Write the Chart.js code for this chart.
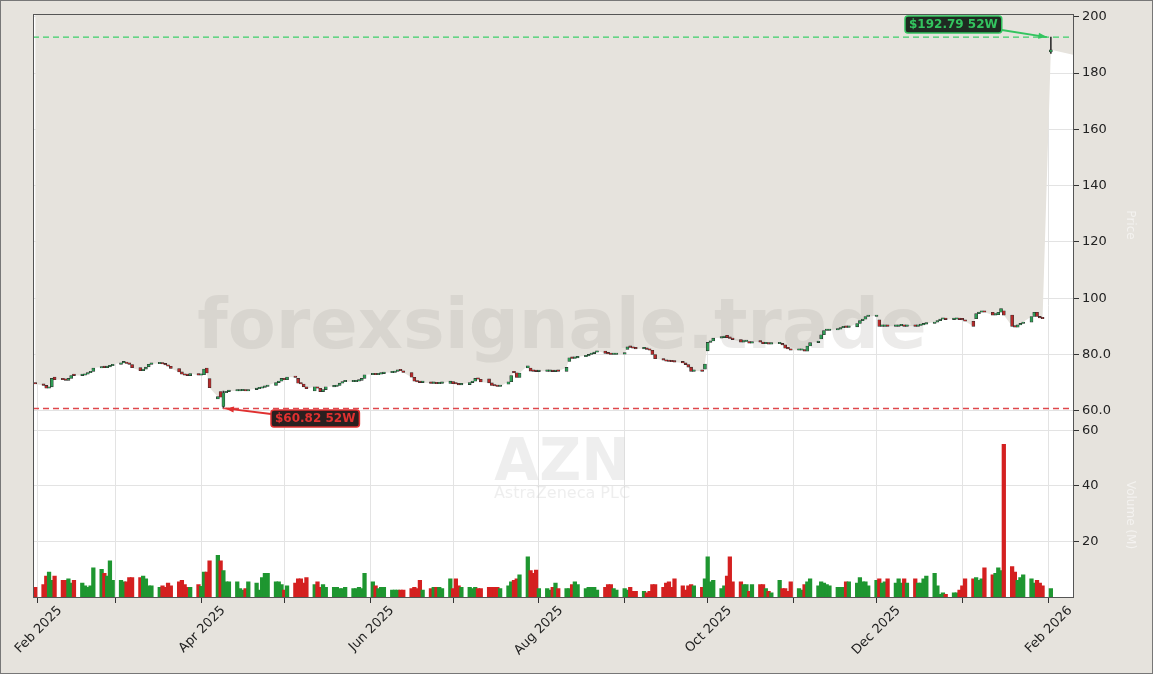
<!DOCTYPE html>
<html>
<head>
<meta charset="utf-8">
<script src="https://cdn.jsdelivr.net/npm/chart.js@4.4.1/dist/chart.umd.min.js"></script>
<style>
  html, body { margin: 0; padding: 0; background: #e6e3dd; }
  #wrap { width: 1153px; height: 674px; position: relative; }
</style>
</head>
<body>
<div id="wrap"><canvas id="azn-chart" width="1153" height="674"></canvas></div>
<script>
// Trading days run from 31 Jan 2025 to 2 Feb 2026 (weekdays)
const firstDay = Date.UTC(2025, 0, 31);
const lastDay = Date.UTC(2026, 1, 2);

// Daily opens / closes (USD), one row per week
const opens = [
  70,
  69.5, 69, 68, 68.5, 72,
  71.2, 71, 70.8, 71.5, 72.6,
  72.5, 72.6, 73, 73.5, 74,
  75.2, 75.5, 75.3, 75.6, 76,
  76.5, 77, 77.2, 76.8, 76.4,
  75.3, 74.2, 74.8, 75.6, 76.5,
  76.7, 76.8, 76.6, 76.3, 75.8,
  75, 73.8, 73, 72.6, 72.5,
  73.2, 72.6, 72.8, 75.2, 71.4,
  64.2, 66.8, 61.5, 66.4, 66.8,
  67, 67, 67.1, 67.2, 67,
  67.5, 67.8, 68, 68.3, 68.6,
  69, 70, 70.5, 71.5, 71,
  72, 71.5, 69.8, 69.5, 68.5,
  67, 68.5, 68, 66.8, 67.5,
  68.5, 68.6, 69, 69.8, 70.3,
  70.3, 70.3, 70.5, 70.8, 71.5,
  72.8, 73, 72.8, 73, 73.2,
  73.5, 73.6, 74, 74.3, 74.2,
  73.6, 71.9, 70.5, 70.2, 70,
  70, 69.7, 69.8, 69.6, 69.7,
  69.7, 70.4, 69.6, 69.5, 69.2,
  69.3, 70, 70.5, 71.5, 71.2,
  71.3, 69.9, 69, 68.8, 68.6,
  69.4, 70.3, 73.8, 73.5, 71.8,
  75.2, 75.2, 74.1, 74, 73.9,
  74, 74, 74.1, 73.9, 74.2,
  74, 77.5, 78.8, 78.6, 78.8,
  79.2, 79.5, 80, 80.3, 80.8,
  81.2, 80.4, 80.2, 80, 80,
  80.1, 81.8, 82.7, 82.5, 82.2,
  82, 82, 81.8, 81.5, 80,
  78.5, 78, 77.6, 77.5, 77.4,
  77.3, 77, 76.4, 75.5, 74,
  74.1, 74.8, 81.3, 84.3, 84.8,
  85.8, 86, 86.8, 86, 85.7,
  85.3, 84.4, 84.6, 84.6, 84,
  84.5, 84.4, 83.8, 83.8, 83.7,
  83.8, 83.8, 83.4, 82.2, 82,
  81.5, 81.5, 81.5, 81.2, 83,
  84.2, 85.5, 87, 88.5, 88.5,
  88.7, 89, 89.5, 89.7, 89.6,
  89.8, 91, 92, 92.5, 93.5,
  93.5, 92.3, 90, 90, 90.1,
  90, 90, 90.2, 90.2, 90,
  90.1, 90, 90.3, 90.5, 90.8,
  91, 91.5, 92, 92.5, 92.5,
  92.4, 92.5, 92.5, 92.4, 92.3,
  91.8, 92.7, 94.5, 95, 95.1,
  95, 94, 94.1, 95, 95.5,
  94, 90, 89.7, 90.5, 91,
  91.5, 93.5, 95, 93.5, 93,
  187.5
];

const closes = [
  69.5,
  69, 68, 68.5, 71.5, 71,
  71, 70.8, 71.5, 72.5, 72.5,
  72.5, 73, 73.5, 74, 75.2,
  75.5, 75.3, 75.6, 76, 76.5,
  77, 77.2, 76.8, 76.5, 75.3,
  74.2, 74.8, 75.5, 76.5, 76.7,
  76.8, 76.6, 76.3, 75.8, 75,
  73.8, 73, 72.6, 72.5, 73.2,
  72.6, 72.8, 74.8, 73.4, 68.2,
  65, 64.8, 66.4, 66.8, 67,
  67, 67.1, 67.2, 67, 67.5,
  67.8, 68, 68.3, 68.6, 69,
  70, 70.5, 71.5, 71, 72,
  71.8, 69.8, 69.5, 68.5, 67.8,
  68.5, 68, 66.8, 67.5, 68.5,
  68.6, 69, 69.8, 70.3, 70.3,
  70.3, 70.5, 70.8, 71.5, 72.8,
  73, 72.8, 73, 73.2, 73.5,
  73.6, 74, 74.3, 74.2, 73.6,
  71.9, 70.5, 70.2, 70, 70,
  69.7, 69.8, 69.6, 69.7, 69.7,
  70.5, 69.6, 69.5, 69.2, 69.3,
  70, 70.5, 71.5, 71.2, 70.2,
  69.9, 69, 68.8, 68.6, 68.7,
  70.3, 72.5, 73.5, 71.8, 73.4,
  76, 74.1, 74, 73.9, 74,
  74, 74.1, 73.9, 74.2, 74,
  75.4, 78.8, 78.6, 78.8, 79.2,
  79.5, 80, 80.3, 80.8, 81.2,
  80.4, 80.2, 80, 80, 80.1,
  80.2, 82.7, 82.5, 82.2, 82,
  82, 81.8, 81.5, 80, 78.5,
  78, 77.6, 77.5, 77.4, 77.3,
  77, 76.4, 75.5, 74, 74.1,
  74, 76.6, 84.3, 84.8, 85.8,
  86, 86.2, 86, 85.7, 85.3,
  84.4, 84.6, 84.6, 84, 84.5,
  84.4, 83.8, 83.8, 83.7, 83.8,
  83.8, 83.4, 82.2, 82, 81.5,
  81.5, 81.5, 81.2, 83, 84.2,
  84.5, 87, 88.5, 88.5, 88.7,
  89, 89.5, 89.7, 89.6, 89.8,
  91, 92, 92.5, 93.5, 93.5,
  93.8, 90, 90, 90.1, 90,
  90, 90.2, 90.2, 90, 90.1,
  90, 90.3, 90.5, 90.8, 91,
  91.5, 92, 92.5, 92.5, 92.4,
  92.5, 92.5, 92.4, 92.3, 91.8,
  90, 94.5, 95, 95.1, 95,
  94, 94.1, 95, 96.3, 94,
  90, 89.7, 90.5, 91, 91.5,
  93.5, 95, 93.5, 93, 92.7,
  188.3
];

// Daily volume (millions)
const volumes = [
  3.5,
  4.5, 7.5, 9, 6, 7.5,
  6, 6, 6.5, 5, 6,
  5, 4, 3.5, 4, 10.5,
  10, 8.5, 7.5, 13, 6,
  6, 5.5, 5.5, 7, 7,
  7, 7.5, 6.5, 4, 4,
  3.5, 4, 3.5, 5, 4,
  5.5, 6, 4.5, 3.5, 3.5,
  4.5, 3.8, 9, 9, 13,
  15, 13, 9.5, 5.5, 5.5,
  5.5, 3, 2.5, 3, 5.5,
  5, 2.5, 7, 8.5, 8.5,
  5.5, 5.5, 4.5, 2.5, 4,
  5, 6.5, 6.5, 5, 7,
  4.5, 5.5, 3.5, 4.5, 3.5,
  3.5, 3.5, 3, 3, 3.5,
  3, 3, 3.5, 3, 8.5,
  5.5, 4, 3, 3.5, 3.5,
  2.5, 2.5, 2.5, 2.5, 2.5,
  3, 3.5, 3, 6, 2.5,
  3, 3.5, 3.5, 3.5, 3,
  6.5, 3, 6.5, 4, 3.5,
  3.5, 3, 3.5, 3, 3,
  3.5, 3.5, 3.5, 3.5, 3,
  4, 5.5, 6, 6.5, 8,
  14.5, 9.5, 8.5, 9.7, 3,
  3, 2.5, 3.5, 5, 3,
  3, 3, 4.5, 5.5, 4.5,
  3, 3.5, 3.5, 3.5, 2.5,
  3.5, 4.5, 4.5, 3, 2.5,
  3, 2.5, 3.5, 2, 2,
  2, 1.5, 2, 4.5, 4.5,
  3.5, 5, 5.5, 3.5, 6.5,
  4, 2.5, 4, 4.5, 4,
  3.5, 6.5, 14.5, 5.5, 6,
  3, 4, 7.5, 14.5, 5.5,
  5.5, 4.5, 4.5, 2, 4.5,
  4.5, 4.5, 3, 2, 1.5,
  6, 3, 3, 2, 5.5,
  3, 2.5, 4.5, 5.5, 6.5,
  4, 5.5, 5, 4.5, 4,
  3.5, 3.5, 3.5, 5.5, 5.5,
  5, 7, 5.5, 5.5, 4,
  6, 6.5, 5, 5.5, 6.5,
  5, 6.5, 5, 6.5, 5,
  6.5, 5, 5, 6.5, 7.5,
  8.5, 4, 1, 1.5, 1,
  1.5, 1.5, 2.5, 4, 6.5,
  6.5, 7, 6, 6.5, 10.5,
  8, 8.5, 10.5, 9.5, 55,
  11, 9, 6, 7, 8,
  6.5, 5, 6, 5, 4,
  3
];

// Wicks worth drawing: [date, low, high]
const wicks = [
  ["2025-04-09", 60.82, 67.0],
  ["2026-02-02", 187.0, 192.79]
];

// 52-week extremes
const high52 = 192.79;
const low52 = 60.82;
// the price shading runs on past the last candle
const shadeEnd = ["2026-02-10", 186.5];

const priceTicks = [60, 80, 100, 120, 140, 160, 180, 200];
const volumeTicks = [20, 40, 60];

const DAY = 86400000;
const origin = Date.UTC(2025, 1, 1);
const toX = (t) => (t - origin) / DAY;
const dateX = (s) => toX(Date.parse(s + "T00:00:00Z"));

// weekday calendar
const days = [];
for (let t = firstDay; t <= lastDay; t += DAY) {
  const wd = new Date(t).getUTCDay();
  if (wd !== 0 && wd !== 6) days.push(toX(t));
}

const UP = "#1e9630";
const DOWN = "#d42020";
const isUp = (i) => closes[i] >= opens[i];

const bodies = days.map((x, i) => ({ x: x, y: [opens[i], closes[i]] }));
const volBars = days.map((x, i) => ({ x: x, y: volumes[i] }));
const shade = days.map((x, i) => ({ x: x, y: closes[i] }));
shade.push({ x: dateX(shadeEnd[0]), y: shadeEnd[1] });
const wickBars = wicks.map((w) => ({ x: dateX(w[0]), y: [w[1], w[2]] }));

// month ticks on the time axis
const monthTicks = [];
for (let m = 0; m <= 12; m++) {
  monthTicks.push({ value: toX(Date.UTC(2025, 1 + m, 1)), m: m });
}
const MONTHS = ["Jan", "Feb", "Mar", "Apr", "May", "Jun", "Jul", "Aug", "Sep", "Oct", "Nov", "Dec"];

// White plot background and frame
const backdrop = {
  id: "backdrop",
  beforeDraw(chart) {
    const { ctx, chartArea: a } = chart;
    ctx.save();
    ctx.fillStyle = "#ffffff";
    ctx.fillRect(a.left, a.top, a.right - a.left, a.bottom - a.top);
    ctx.restore();
  },
  afterDraw(chart) {
    const { ctx, chartArea: a } = chart;
    ctx.save();
    ctx.strokeStyle = "#555";
    ctx.lineWidth = 1;
    ctx.strokeRect(a.left + 0.5, a.top + 0.5, a.right - a.left, a.bottom - a.top);
    ctx.strokeStyle = "#777";
    ctx.strokeRect(0.5, 0.5, chart.width - 1, chart.height - 1);
    ctx.restore();
  }
};

// Watermarks: drawn right after the shading, under the candles
const watermark = {
  id: "watermark",
  afterDatasetDraw(chart, args) {
    if (args.index !== 0) return;
    const { ctx } = chart;
    ctx.save();
    ctx.textAlign = "center";
    ctx.textBaseline = "middle";
    ctx.fillStyle = "rgba(170,166,160,0.22)";
    ctx.font = "bold 70px 'DejaVu Sans'";
    ctx.fillText("forexsignale.trade", 562, 330);
    ctx.fillStyle = "rgba(200,200,200,0.3)";
    ctx.font = "bold 58px 'DejaVu Sans'";
    ctx.fillText("AZN", 562, 465);
    ctx.font = "16px 'DejaVu Sans'";
    ctx.fillText("AstraZeneca PLC", 562, 494);
    ctx.restore();
  }
};

function tag(ctx, text, x, y, color, bg) {
  ctx.font = "bold 12px 'DejaVu Sans'";
  const w = ctx.measureText(text).width + 8;
  ctx.fillStyle = bg;
  ctx.strokeStyle = color;
  ctx.lineWidth = 1.5;
  ctx.beginPath();
  ctx.roundRect(x, y, w, 17, 3);
  ctx.fill();
  ctx.stroke();
  ctx.fillStyle = color;
  ctx.textBaseline = "middle";
  ctx.textAlign = "left";
  ctx.fillText(text, x + 4, y + 9);
  return w;
}

function arrow(ctx, x1, y1, x2, y2, color) {
  ctx.strokeStyle = color;
  ctx.fillStyle = color;
  ctx.lineWidth = 1.8;
  ctx.beginPath();
  ctx.moveTo(x1, y1);
  ctx.lineTo(x2, y2);
  ctx.stroke();
  const a = Math.atan2(y2 - y1, x2 - x1);
  ctx.beginPath();
  ctx.moveTo(x2, y2);
  ctx.lineTo(x2 - 9 * Math.cos(a - 0.35), y2 - 9 * Math.sin(a - 0.35));
  ctx.lineTo(x2 - 9 * Math.cos(a + 0.35), y2 - 9 * Math.sin(a + 0.35));
  ctx.closePath();
  ctx.fill();
}

// 52-week high / low lines and tags
const extremes = {
  id: "extremes",
  afterDatasetsDraw(chart) {
    const { ctx, chartArea: a } = chart;
    const ys = chart.scales.y;
    const xs = chart.scales.x;
    const yh = ys.getPixelForValue(high52);
    const yl = ys.getPixelForValue(low52);
    ctx.save();
    ctx.setLineDash([6, 4]);
    ctx.lineWidth = 1.4;
    ctx.strokeStyle = "#3ccf6a";
    ctx.beginPath(); ctx.moveTo(a.left, yh); ctx.lineTo(a.right, yh); ctx.stroke();
    ctx.strokeStyle = "#e0474c";
    ctx.beginPath(); ctx.moveTo(a.left, yl); ctx.lineTo(a.right, yl); ctx.stroke();
    ctx.setLineDash([]);

    const xh = xs.getPixelForValue(dateX(wicks[1][0]));
    const xl = xs.getPixelForValue(dateX(wicks[0][0]));
    const w = tag(ctx, "$192.79 52W", 905, 16, "#33c45f", "#1f2b22");
    arrow(ctx, 905 + w, 30, xh - 4, yh, "#33c45f");
    tag(ctx, "$60.82 52W", 271, 410, "#e03030", "#2a1f1f");
    arrow(ctx, 271, 414, xl + 2, yl, "#e03030");
    ctx.restore();
  }
};

// Faint side titles
const sideTitles = {
  id: "sideTitles",
  afterDraw(chart) {
    const { ctx } = chart;
    ctx.save();
    ctx.fillStyle = "rgba(255,255,255,0.55)";
    ctx.font = "12px 'DejaVu Sans'";
    ctx.textAlign = "center";
    ctx.translate(1127, 225);
    ctx.rotate(Math.PI / 2);
    ctx.fillText("Price", 0, 0);
    ctx.restore();
    ctx.save();
    ctx.fillStyle = "rgba(255,255,255,0.55)";
    ctx.font = "12px 'DejaVu Sans'";
    ctx.textAlign = "center";
    ctx.translate(1127, 515);
    ctx.rotate(Math.PI / 2);
    ctx.fillText("Volume (M)", 0, 0);
    ctx.restore();
  }
};

const gridColor = "#e3e3e3";
const tickFont = { family: "DejaVu Sans", size: 13 };

const config = {
  data: {
    datasets: [
      {
        type: "line",
        data: shade,
        yAxisID: "y",
        borderWidth: 0,
        pointRadius: 0,
        tension: 0,
        fill: "end",
        backgroundColor: "#e6e3dd",
        order: 10
      },
      {
        type: "bar",
        data: wickBars,
        yAxisID: "y",
        backgroundColor: "#333",
        barThickness: 1,
        grouped: false,
        order: 3
      },
      {
        type: "bar",
        data: bodies,
        yAxisID: "y",
        backgroundColor: days.map((d, i) => (isUp(i) ? "#2f9c55" : "#b52a2a")),
        borderColor: "#2b2b2b",
        borderWidth: 0.6,
        borderSkipped: false,
        barThickness: 3,
        minBarLength: 1.5,
        grouped: false,
        order: 2
      },
      {
        type: "bar",
        data: volBars,
        yAxisID: "yv",
        backgroundColor: days.map((d, i) => (isUp(i) ? UP : DOWN)),
        barThickness: 3.6,
        grouped: false,
        order: 4
      }
    ]
  },
  options: {
    responsive: false,
    animation: false,
    layout: { padding: { left: 33, top: 14, right: 0, bottom: 0 } },
    plugins: { legend: { display: false }, tooltip: { enabled: false } },
    scales: {
      x: {
        type: "linear",
        min: -1.8,
        max: 374,
        offset: false,
        grid: { offset: false, color: gridColor, drawTicks: true, tickLength: 6, tickColor: "#333" },
        border: { display: false },
        afterBuildTicks(scale) {
          scale.ticks = monthTicks.map((t) => ({ value: t.value }));
        },
        afterFit(scale) {
          scale.height = 77;
          scale.paddingLeft = 0;
          scale.paddingRight = 0;
        },
        ticks: {
          autoSkip: false,
          maxRotation: 45,
          minRotation: 45,
          labelOffset: 22,
          color: "#222",
          font: tickFont,
          padding: 0,
          callback(value, idx) {
            const m = monthTicks[idx].m;
            if (m % 2 !== 0) return "";
            const d = new Date(Date.UTC(2025, 1 + m, 1));
            return MONTHS[d.getUTCMonth()] + " " + d.getUTCFullYear();
          }
        }
      },
      y: {
        position: "right",
        stack: "panes",
        stackWeight: 2.5,
        min: 53,
        max: 201,
        grid: { color: gridColor, tickLength: 6, tickColor: "#333" },
        border: { display: false },
        afterBuildTicks(scale) {
          scale.ticks = priceTicks.map((v) => ({ value: v }));
        },
        afterFit(scale) { scale.width = 80; },
        ticks: {
          color: "#222",
          font: tickFont,
          padding: 3,
          callback: (v) => (v < 100 ? v.toFixed(1) : String(v))
        }
      },
      yv: {
        position: "right",
        stack: "panes",
        stackWeight: 1,
        offset: false,
        min: 0,
        max: 60,
        grid: { color: gridColor, tickLength: 6, tickColor: "#333" },
        border: { display: false },
        afterBuildTicks(scale) {
          scale.ticks = volumeTicks.map((v) => ({ value: v }));
        },
        afterFit(scale) { scale.width = 80; },
        ticks: { color: "#222", font: tickFont, padding: 3 }
      }
    }
  },
  plugins: [backdrop, watermark, extremes, sideTitles]
};

const azn_chart = new Chart(document.getElementById("azn-chart"), config);
</script>
</body>
</html>
